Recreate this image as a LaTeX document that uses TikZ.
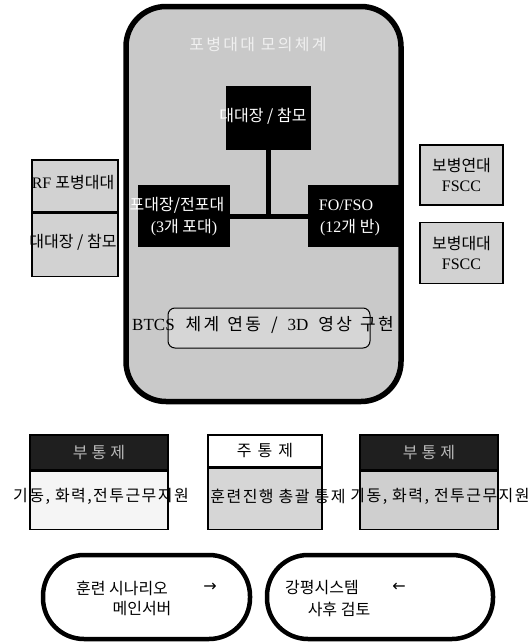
\documentclass[tikz,border=0pt]{standalone}
\usepackage{fontspec}
\setmainfont{Liberation Serif}
\newfontfamily\kr{Noto Sans CJK KR}
\newfontfamily\krw[LetterSpace=14]{Noto Sans CJK KR}
\newfontfamily\krm[LetterSpace=9]{Noto Sans CJK KR}
\newfontfamily\dv{DejaVu Sans}
\begin{document}
\begin{tikzpicture}[x=1pt,y=-1pt,
  bigbox/.style={draw, line width=5.5pt, rounded corners=40pt, fill=gray!42},
  blk/.style={fill=black, inner sep=0},
  sidebox/.style={draw, line width=1.6pt, fill=gray!35, inner sep=0},
  btbox/.style={draw, line width=1pt, rounded corners=7pt, fill=gray!32, inner sep=0},
  hdrdark/.style={draw, line width=1.6pt, fill=black!88, inner sep=0},
  hdrlight/.style={draw, line width=1.6pt, fill=white, inner sep=0},
  bodybox/.style={draw, line width=1.6pt, inner sep=0},
  oval/.style={draw, line width=4.5pt, rounded corners=41pt, inner sep=0},
  conn/.style={line width=5pt},
  txt/.style={font=\fontsize{16}{18}\selectfont, inner sep=0},
  wtxt/.style={txt, text=white}
]
\useasboundingbox (0,0) rectangle (530,643);

% main rounded frame
\node[bigbox, minimum width=275pt, minimum height=395pt] (main) at (263.5,204) {};
\node[txt, text=gray!12] (title) at (258,45) {\krw 포병대대 모의체계};

% black boxes
\node[blk, minimum width=85pt, minimum height=64pt] (bc) at (268,118) {};
\node[wtxt] (bct) at (263,116) {\kr 대대장 / 참모};
\node[blk, minimum width=92pt, minimum height=62pt] (pl) at (184,216) {};
\node[wtxt] (plt1) at (177,205) {\kr 포대장/전포대};
\node[wtxt] (plt2) at (184,228) {(3{\kr 개 포대})};
\node[blk, minimum width=92pt, minimum height=62pt] (fo) at (354,216) {};
\node[wtxt] (fot1) at (346,205) {FO/FSO};
\node[wtxt] (fot2) at (350,228) {(12{\kr 개 반})};

% connectors
\draw[conn] (bc.south) -- (bc.south |- pl.east);
\draw[conn] (pl.east) -- (fo.west);

% BTCS box
\node[btbox, minimum width=202pt, minimum height=40pt] (bt) at (269,328) {};
\node[txt, font=\fontsize{17}{19}\selectfont] (btt) at (263,325) {BTCS\hspace{11pt}{\krw 체계\hspace{8pt}연동\hspace{10pt}/\hspace{10pt}}3D\hspace{10pt}{\krw 영상\hspace{8pt}구현}};

% left side boxes
\node[sidebox, minimum width=86pt, minimum height=52pt] (rf) at (75,186) {};
\node[txt] (rft) at (73,183) {RF {\kr 포병대대}};
\node[sidebox, minimum width=86pt, minimum height=63pt, anchor=north] (dj) at (rf.south) {};
\node[txt] (djt) at (73,242) {\kr 대대장 / 참모};

% right side boxes
\node[sidebox, minimum width=83pt, minimum height=60pt] (fs1) at (461.5,175) {};
\node[txt, align=center] (fs1t) at (fs1) {{\kr 보병연대}\\[2pt]FSCC};
\node[sidebox, minimum width=83pt, minimum height=61pt] (fs2) at (461.5,253) {};
\node[txt, align=center] (fs2t) at (fs2) {{\kr 보병대대}\\[2pt]FSCC};

% bottom control boxes
\node[hdrdark, minimum width=138pt, minimum height=35pt] (h1) at (99,452.5) {};
\node[txt, text=gray!55] (h1t) at (h1) {\kr 부\hspace{4pt}통\hspace{4pt}제};
\node[bodybox, fill=gray!8, minimum width=138pt, minimum height=58pt, anchor=north] (b1) at (h1.south) {};
\node[hdrlight, minimum width=114pt, minimum height=32pt] (h2) at (265,451) {};
\node[txt] (h2t) at (h2) {\kr 주\hspace{6pt}통\hspace{6pt}제};
\node[bodybox, fill=gray!32, minimum width=114pt, minimum height=61pt, anchor=north] (b2) at (h2.south) {};
\node[hdrdark, minimum width=138pt, minimum height=35pt] (h3) at (429,452.5) {};
\node[txt, text=gray!55] (h3t) at (h3) {\kr 부\hspace{4pt}통\hspace{4pt}제};
\node[bodybox, fill=gray!38, minimum width=138pt, minimum height=58pt, anchor=north] (b3) at (h3.south) {};

\node[txt] (b1t) at (101,496) {\krm 기동, 화력,전투근무지원};
\node[txt] (b2t) at (278,496) {\krm 훈련진행 총괄 통제};
\node[txt] (b3t) at (440,496) {\krm 기동, 화력, 전투근무지원};

% ovals
\node[oval, minimum width=207pt, minimum height=84pt] (o1) at (146.5,597) {};
\node[txt] (o1a) at (122,588) {\kr 훈련 시나리오};
\node[txt] (o1b) at (210,587) {\dv →};
\node[txt] (o1c) at (142,609) {\kr 메인서버};
\node[oval, minimum width=226pt, minimum height=84pt] (o2) at (380,597) {};
\node[txt] (o2a) at (322,588) {\kr 강평시스템};
\node[txt] (o2b) at (399,587) {\dv ←};
\node[txt] (o2c) at (339,609) {\kr 사후 검토};
\end{tikzpicture}
\end{document}
